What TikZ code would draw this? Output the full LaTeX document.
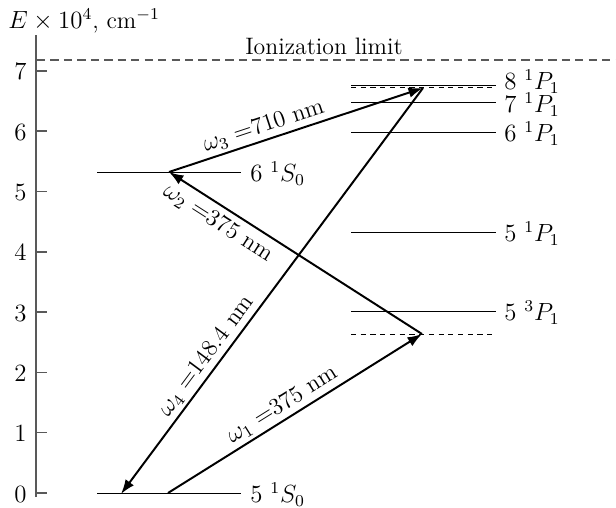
\documentclass[tikz,border=0pt]{standalone}
\usetikzlibrary{arrows.meta}
\begin{document}
\begin{tikzpicture}[x=0.4831pt,y=-0.4831pt,
  every node/.style={font=\fontsize{11.5pt}{14pt}\selectfont},
  level/.style={line width=0.45pt},
  dlevel/.style={line width=0.45pt,dash pattern=on 2.5pt off 2.2pt},
  trans/.style={line width=0.95pt,-{Latex[length=7pt,width=5pt]}},
  axisline/.style={black!65,line width=0.75pt},
  ionline/.style={black!65,line width=0.6pt,dash pattern=on 4pt off 2.5pt},
  lvllab/.style={anchor=west,inner sep=0pt},
  tlab/.style={sloped,inner sep=1.5pt}]
\useasboundingbox (0,0) rectangle (616,508);
% axis
\coordinate (ax0) at (36,497);
\coordinate (ax1) at (36,35);
\draw[axisline] (ax0) -- (ax1);
\node[anchor=west,inner sep=0pt] (axlab) at (8,21) {$E\times10^4$, cm$^{-1}$};
\foreach \k in {0,...,7} {
  \coordinate (tk\k) at (36,{493-60.3*\k});
  \coordinate (te\k) at (47,{493-60.3*\k});
  \draw[axisline] (tk\k) -- (te\k);
  \node[anchor=east,inner sep=0pt] (tl\k) at (27,{494-60.3*\k}) {$\k$};
}
% ionization limit
\coordinate (ion0) at (37,60);
\coordinate (ion1) at (616,60);
\draw[ionline] (ion0) -- (ion1);
\node (ionlab) at (324,46) {Ionization limit};
% S levels
\coordinate (g0) at (97,493); \coordinate (g1) at (241,493);
\draw[level] (g0) -- (g1);
\node[lvllab] (lg) at (250,495) {$5\ ^1S_0$};
\coordinate (s0) at (97,172); \coordinate (s1) at (241,172);
\draw[level] (s0) -- (s1);
\node[lvllab] (ls) at (250,174) {$6\ ^1S_0$};
% P levels
\foreach \n/\y/\ly/\t in {p5t/311/313/{5\ ^3P_1},p5/232/234/{5\ ^1P_1},p6/132/134/{6\ ^1P_1},p7/102/105/{7\ ^1P_1},p8/85/82/{8\ ^1P_1}} {
  \coordinate (\n a) at (351,\y);
  \coordinate (\n b) at (496,\y);
  \draw[level] (\n a) -- (\n b);
  \node[lvllab] (l\n) at (504,\ly) {$\t$};
}
\coordinate (v1a) at (351,334); \coordinate (v1b) at (496,334);
\draw[dlevel] (v1a) -- (v1b);
\coordinate (v2a) at (351,87.5); \coordinate (v2b) at (496,87.5);
\draw[dlevel] (v2a) -- (v2b);
% transition points
\coordinate (A) at (168,493);
\coordinate (B) at (422,334);
\coordinate (C) at (169,172);
\coordinate (D) at (423,88);
\coordinate (E) at (121,494);
\draw[trans] (A) -- node[tlab,above,pos=0.48] (w1) {$\omega_1 =$375 nm} (B);
\draw[trans] (B) -- node[tlab,below,pos=0.77,inner sep=2.5pt] (w2) {$\omega_2 =$375 nm} (C);
\draw[trans] (C) -- node[tlab,above,pos=0.39] (w3) {$\omega_3 =$710 nm} (D);
\draw[trans] (D) -- node[tlab,above,pos=0.68] (w4) {$\omega_4 =$148.4 nm} (E);
\end{tikzpicture}
\end{document}
